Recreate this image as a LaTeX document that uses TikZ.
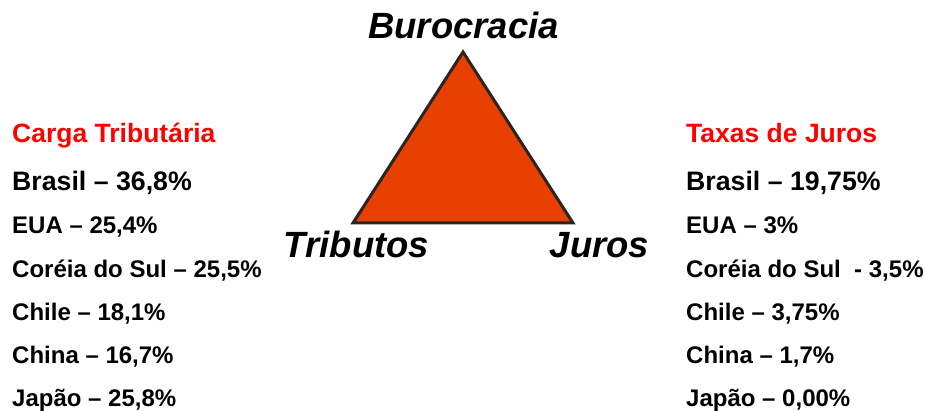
\documentclass[tikz,border=0pt]{standalone}
\usepackage{fontspec}
\setmainfont{Liberation Sans}
\definecolor{trifill}{HTML}{E84000}
\definecolor{tristroke}{HTML}{2B2420}
\definecolor{headred}{HTML}{FF0000}
\begin{document}
\begin{tikzpicture}[x=1pt,y=-1pt,
  head/.style={anchor=base west,inner sep=0pt,text=headred,font=\fontsize{26.5}{30}\selectfont\bfseries},
  big/.style={anchor=base west,inner sep=0pt,font=\fontsize{26.7}{30}\selectfont\bfseries},
  item/.style={anchor=base west,inner sep=0pt,font=\fontsize{24}{28}\selectfont\bfseries},
  corner/.style={anchor=base,inner sep=0pt,font=\fontsize{36.5}{40}\selectfont\bfseries\itshape}]
\useasboundingbox (0,0) rectangle (925,411);
\coordinate (top) at (463,52);
\coordinate (bl) at (353,223);
\coordinate (br) at (573,223);
\draw[fill=trifill,draw=tristroke,line width=3pt,line join=miter] (top) -- (bl) -- (br) -- cycle;
\node[corner] (bur) at (463.5,39) {Burocracia};
\node[corner] (trib) at (356.5,258) {Tributos};
\node[corner] (jur) at (599.5,258) {Juros};
% left
\node[head] (lh) at (12,143) {Carga Tributária};
\node[big] (l1) at (12,191) {Brasil – 36,8\%};
\node[item] (l2) at (12,234) {EUA – 25,4\%};
\node[item] (l3) at (12,277) {Coréia do Sul – 25,5\%};
\node[item] (l4) at (12,320) {Chile – 18,1\%};
\node[item] (l5) at (12,363) {China – 16,7\%};
\node[item] (l6) at (12,406) {Japão – 25,8\%};
% right
\node[head] (rh) at (686,143) {Taxas de Juros};
\node[big] (r1) at (686,191) {Brasil – 19,75\%};
\node[item] (r2) at (686,234) {EUA – 3\%};
\node[item] (r3) at (686,277) {Coréia do Sul\ \ - 3,5\%};
\node[item] (r4) at (686,320) {Chile – 3,75\%};
\node[item] (r5) at (686,363) {China – 1,7\%};
\node[item] (r6) at (686,406) {Japão – 0,00\%};
\end{tikzpicture}
\end{document}
